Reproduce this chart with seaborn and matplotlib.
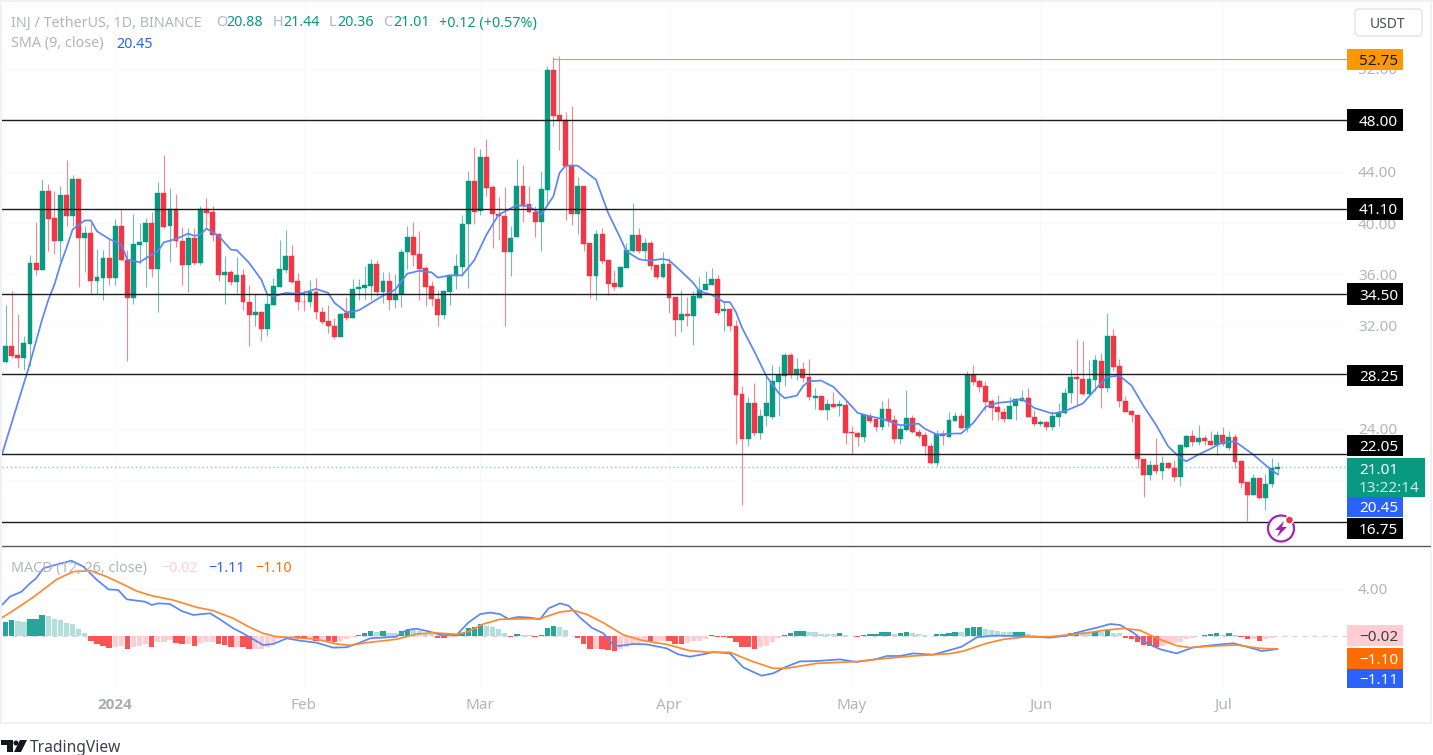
import numpy as np
import pandas as pd
import matplotlib
matplotlib.use('Agg')
import matplotlib.pyplot as plt
import seaborn as sns
from matplotlib.patches import Rectangle, FancyBboxPatch, Circle, Polygon

# INJ / USDT daily candles
opens = [29.19,30.46,29.73,29.53,30.62,36.89,36.37,42.5,40.37,38.58,
         42.19,40.53,43.46,38.81,39.25,35.49,35.73,37.28,35.73,39.8,
         37.1,34.14,38.32,38.5,40.03,36.45,42.34,39.8,41.1,38.63,
         36.77,38.87,36.9,41.1,40.84,39.18,35.96,36.17,35.39,35.96,
         33.88,32.87,33.05,31.78,33.65,35.03,36.32,37.46,35.47,33.88,
         33.83,34.61,33.1,32.38,32.0,31.16,33.0,32.64,34.86,34.97,
         35.12,36.81,34.6,35.46,34.03,34.5,37.77,38.94,37.59,36.47,
         35.07,34.11,32.87,34.63,35.9,36.58,39.9,43.27,40.91,45.14,
         42.78,40.73,40.57,37.72,38.88,42.88,41.45,40.88,40.05,42.6,
         51.93,48.38,48.04,44.51,40.67,42.88,38.47,35.85,39.17,37.12,
         35.3,35.0,36.5,37.85,39.09,37.85,38.47,36.73,35.77,36.81,
         34.22,32.48,32.95,32.74,34.16,34.76,35.18,35.64,33.14,33.27,
         32.02,26.73,23.23,26.0,23.67,24.96,24.91,27.64,28.08,29.76,
         28.16,28.65,28.0,26.42,26.52,25.48,25.95,25.79,25.87,23.77,
         23.67,23.38,25.02,24.73,24.16,25.54,24.7,23.2,23.93,24.83,
         23.75,23.51,22.63,21.33,23.59,23.38,24.63,25.02,24.06,28.2,
         27.69,27.3,26.18,25.69,25.33,24.78,25.74,26.18,26.41,24.91,
         24.39,24.52,24.16,24.91,25.22,26.78,28.02,27.89,26.72,27.81,
         29.29,27.14,31.24,28.88,26.18,25.4,25.09,21.64,20.37,21.2,
         20.68,21.33,20.97,20.24,22.6,23.46,22.96,23.3,23.04,22.7,
         23.51,22.5,23.35,21.46,19.82,18.86,20.14,18.58,19.7,20.88]
highs = [33.65,34.69,32.95,31.2,37.5,40.06,43.43,43.04,42.5,42.91,
         44.93,43.77,43.5,39.8,40.0,38.01,37.93,38.84,40.34,41.12,
         37.9,40.68,40.0,40.4,40.84,43.2,45.3,42.73,42.26,39.7,
         39.62,39.6,41.36,41.95,41.36,39.23,37.46,36.37,37.36,36.43,
         35.18,34.5,33.18,34.5,35.73,38.7,39.49,38.3,36.12,34.77,
         35.6,35.73,33.5,33.6,32.64,33.0,34.25,35.65,35.64,36.63,
         37.2,37.15,36.16,36.16,36.06,38.0,39.74,40.05,39.4,36.63,
         35.46,34.81,34.76,35.98,37.62,40.65,44.07,45.9,45.79,46.56,
         42.98,42.0,42.8,39.74,44.98,44.5,42.9,41.3,44.07,52.24,
         52.92,53.02,48.61,49.08,43.58,42.88,38.47,39.48,39.61,37.15,
         36.37,36.68,38.44,41.53,39.64,38.83,38.63,36.76,37.77,37.28,
         34.22,34.76,34.24,34.68,35.77,36.29,36.5,35.93,33.91,33.4,
         32.49,27.3,26.44,27.56,25.54,28.2,28.96,28.86,29.89,29.89,
         29.5,29.19,29.43,27.14,26.65,26.31,26.83,26.2,26.2,24.24,
         23.72,25.09,25.22,24.76,26.18,26.37,25.09,24.19,27.04,25.09,
         23.98,23.72,22.89,23.93,23.93,25.33,25.33,25.22,28.52,28.96,
         27.87,27.69,26.31,26.65,25.59,26.47,26.39,27.04,27.19,25.48,
         24.65,24.57,25.35,26.0,27.17,28.64,30.98,30.85,29.32,29.76,
         29.89,33.0,31.78,29.42,26.57,25.48,25.09,21.64,21.54,23.25,
         21.85,21.38,21.54,22.81,23.53,23.87,24.31,23.53,23.79,23.85,
         24.13,23.79,23.59,21.59,19.87,20.45,20.19,20.5,21.69,21.44]
lows = [29.1,29.5,28.72,28.6,28.9,35.96,36.37,37.83,37.62,37.08,
        39.75,39.75,35.0,36.17,34.5,34.5,34.04,35.18,35.18,37.02,
        29.29,33.68,36.82,35.0,35.8,33.05,39.6,36.95,38.14,35.18,
        34.6,36.77,36.7,39.6,38.58,35.47,33.68,35.2,34.56,33.26,
        30.41,32.0,30.85,31.2,33.65,35.03,36.1,35.3,33.26,33.13,
        33.5,32.5,32.17,31.45,31.0,31.16,32.48,32.64,33.98,34.03,
        34.03,34.3,33.77,33.2,33.4,33.5,36.42,36.68,33.98,33.57,
        33.57,32.01,32.56,33.65,34.86,35.85,34.92,39.9,40.6,42.08,
        38.08,38.7,32.01,35.85,38.88,40.05,40.78,38.88,37.85,41.35,
        47.58,45.71,40.21,39.87,39.17,37.85,34.14,34.03,36.84,34.42,
        34.81,34.94,36.5,37.77,37.67,37.15,36.37,35.64,35.72,33.0,
        31.23,31.54,31.96,30.53,34.16,34.76,35.18,32.87,31.58,31.58,
        22.84,18.09,22.63,23.41,23.2,24.24,24.76,25.02,27.35,27.95,
        27.82,27.61,26.2,25.54,25.43,24.7,25.61,24.96,22.84,22.0,
        22.68,22.97,24.45,23.8,23.87,24.19,22.89,22.84,23.85,23.62,
        23.28,21.98,21.25,21.07,22.76,23.33,24.58,24.0,23.75,27.43,
        26.83,25.35,24.65,24.65,24.5,24.78,24.7,26.13,24.88,24.23,
        24.18,23.87,23.92,24.18,25.17,26.0,25.79,26.65,26.65,26.91,
        25.6,26.83,28.46,25.69,25.27,24.55,20.94,18.68,20.03,20.5,
        20.11,20.86,19.9,19.51,22.47,22.63,22.7,22.76,22.7,21.98,
        22.63,22.3,20.94,19.38,16.84,18.84,18.55,17.7,19.44,20.36]
closes = [30.46,29.63,29.53,30.67,36.89,36.37,42.5,40.32,38.58,42.19,
          40.53,43.43,38.81,39.25,35.49,35.78,37.28,35.73,39.8,37.1,
          34.14,38.37,38.55,40.03,36.45,42.34,39.72,41.1,38.58,36.77,
          38.87,36.9,41.1,40.79,39.1,35.96,36.17,35.42,35.96,33.83,
          32.87,33.1,31.78,33.73,35.08,36.43,37.46,35.39,33.83,33.83,
          34.61,33.05,32.33,31.97,31.16,32.95,32.64,34.84,35.02,35.15,
          36.81,34.66,35.46,34.03,34.5,37.77,38.94,37.54,36.42,35.02,
          34.11,32.87,34.68,35.98,36.65,39.95,43.27,40.83,45.14,42.73,
          40.67,40.57,37.72,38.83,42.88,41.4,40.86,40.05,42.65,51.93,
          48.3,47.91,44.46,40.67,42.88,38.39,35.85,39.17,37.07,35.25,
          35.0,36.58,37.93,39.09,37.85,38.44,36.68,35.77,36.81,34.16,
          32.48,32.95,32.74,34.29,34.81,35.23,35.64,33.0,33.27,31.97,
          26.65,23.2,26.0,23.67,25.02,26.0,27.69,28.2,29.76,28.2,
          28.65,27.95,26.44,26.52,25.48,25.95,25.69,25.9,23.67,23.62,
          23.38,25.04,24.6,24.16,25.54,24.63,23.2,24.0,24.83,23.72,
          23.46,22.63,21.33,23.59,23.41,24.7,25.02,24.06,28.2,27.61,
          27.25,26.05,25.64,25.28,24.78,25.79,26.31,26.39,24.88,24.39,
          24.52,24.16,25.01,25.22,26.8,28.02,27.87,26.72,27.84,29.34,
          27.14,31.24,28.77,26.13,25.32,25.04,21.64,20.37,21.2,20.68,
          21.33,20.94,20.24,22.73,23.46,22.99,23.3,23.02,22.76,23.51,
          22.83,23.35,21.41,19.77,18.86,20.19,18.58,19.72,20.91,21.01]

# SMA(9) as it reads on the chart, day number / price
sma_days = [0.4,3,4.7,7,8,9,10,11,12,14,15,16,18,20,21,23,25,26,27,29,31,32,33,34,36,38,39,41,43,44,45,47,49,50,52,54,55,57,59,
            61,63,65,67,69,71,72,74,76,78,80,82,85,87,89,91,92,93,95,98,100,102,103,105,106,107,109,110,112,114,115,117,119,
            120,121,122,124,126,128,129,131,132,133,135,137,139,141,143,145,148,151,152,154,157,158,160,162,164,166,168,
            170,173,175,178,180,182,184,186,188,190,192,194,195,197,199,201,203,206,209,210]
sma_vals = [22.0,26.0,28.6,32.5,34.0,35.2,36.76,38.06,39.5,40.2,40.2,39.36,38.76,38.32,37.15,36.95,37.54,37.8,38.5,38.76,39.18,39.0,39.1,39.57,39.0,37.93,37.88,36.9,35.6,34.43,34.3,34.56,34.5,34.56,34.87,34.56,33.8,33.05,33.2,
            33.77,34.35,34.81,36.06,36.29,36.16,35.75,35.93,35.93,37.1,39.09,40.65,41.38,41.3,40.65,42.08,43.89,44.46,44.46,43.37,40.78,38.83,37.8,37.2,37.1,37.1,37.2,37.1,36.24,35.33,34.68,34.42,33.85,
            33.84,33.06,31.84,30.02,28.08,26.78,26.37,26.57,27.3,27.69,27.74,27.25,26.26,25.22,24.96,24.76,24.26,24.39,24.0,23.54,23.62,23.62,24.45,25.69,26.0,26.1,26.31,
            25.61,25.17,25.35,25.95,27.04,28.02,28.13,27.35,25.74,24.31,22.63,21.72,21.46,21.98,22.44,22.96,23.0,21.98,20.76,20.45]

# MACD pane
macd_days = [0.4,1.7,3.6,5,6,7.2,9.1,11.8,13.8,16,17.9,19.5,20.9,23.9,25,26.1,28,29.9,31.8,34.6,36.2,38.4,40,43.3,45,47.2,49.4,52.1,54.8,57,59.2,60.9,65.2,66.9,68.5,70.7,72.4,75.1,77,79,
             80.6,82.2,83.6,85.2,87.2,88.8,90.2,92.1,93.5,95.4,97.3,99.2,100.6,101.7,104.1,106.3,109.6,111.5,113.4,115.6,117.3,120,122.2,125.2,127.1,129.3,131.5,134.3,138.1,140.8,144.1,145.8,148,150.1,153.4,156.2,
             158.1,160.6,163.3,167.2,172.6,175.4,177.6,180.3,182.5,184.1,186.3,188.5,190.7,193.4,196.2,199.5,202.7,204.9,207.4,210]
macd_vals = [2.64,3.35,3.77,4.48,4.91,5.76,6.04,6.41,5.9,4.77,3.97,3.91,3.12,2.92,2.64,2.78,2.72,2.13,1.79,1.93,1.42,0.65,0.23,-0.77,-0.68,-0.2,-0.4,-0.57,-0.99,-0.96,-0.57,-0.2,-0.06,0.51,0.62,0.37,0.09,0.09,1.13,1.87,
             1.99,1.87,1.45,1.62,1.56,1.42,2.35,2.78,2.58,1.56,0.71,0.23,-0.62,-0.85,-0.68,-0.71,-1.05,-1.56,-1.76,-1.56,-1.36,-1.48,-2.67,-3.38,-3.18,-2.61,-2.16,-2.13,-1.99,-2.21,-1.96,-1.7,-1.7,-1.48,-1.59,-1.19,
             -0.91,-0.11,0.03,0.0,-0.14,0.03,0.37,0.71,1.02,0.94,0.28,-0.62,-1.13,-1.48,-0.96,-0.77,-0.62,-0.91,-1.28,-1.11]
signal_days = [0.4,2.8,5.5,9.4,12.1,14.9,17.6,20.3,22.5,25,28.5,32.4,35.1,38.4,41.1,43.3,45.5,48.3,52.1,55.4,57.6,60.3,65.2,68.5,71.3,75.1,77,
               79.5,82.2,88.8,92.1,94.3,96.5,99.2,102.5,105.8,109.6,113.4,116.7,120,123.8,127.1,129.3,134.3,140.8,145.8,150.1,156.2,
               158.4,162.2,165,168.8,172.6,178.1,181.9,184.7,187.4,190.2,193.4,195.6,199.5,203.3,207.1,210]
signal_vals = [1.56,2.35,3.29,4.82,5.48,5.56,5.05,4.4,3.83,3.43,3.06,2.44,2.16,1.5,0.74,0.23,-0.06,-0.14,-0.28,-0.68,-0.79,-0.57,-0.28,0.17,0.28,0.14,0.37,
               1.02,1.42,1.48,2.04,2.18,1.84,1.13,0.09,-0.4,-0.71,-1.25,-1.39,-1.39,-2.18,-2.75,-2.75,-2.33,-2.18,-1.9,-1.7,-1.5,
               -1.28,-0.62,-0.28,-0.06,-0.06,0.23,0.51,0.65,0.48,-0.2,-0.82,-0.99,-0.85,-0.77,-1.05,-1.1]
hist_vals = [1.22,1.33,1.25,1.19,1.42,1.42,1.76,1.7,1.45,1.36,
             1.13,1.02,.57,.23,-.4,-.71,-.82,-.99,-.91,-.85,
             -1.13,-.96,-.82,-.71,-.91,-.48,-.48,-.34,-.57,-.71,
             -.71,-.82,-.57,-.48,-.48,-.71,-.77,-.91,-.91,-.96,
             -1.08,-1.08,-1.08,-.96,-.57,-.25,-.17,-.11,-.2,-.25,
             -.22,-.4,-.4,-.45,-.48,-.4,-.28,-.11,.11,.23,
             .4,.38,.4,.28,.23,.4,.51,.5,.4,.23,
             .17,-.17,-.2,-.06,.06,.23,.68,.74,1.02,.85,
             .74,.57,.23,-.09,.14,.11,.06,-.11,.09,.65,
             .82,.8,.48,.03,-.2,-.65,-1.08,-1.08,-1.13,-1.19,
             -1.3,-1.13,-.96,-.74,-.57,-.4,-.45,-.43,-.4,-.45,
             -.65,-.66,-.62,-.45,-.4,-.28,.06,-.11,-.12,-.17,
             -.54,-.96,-.97,-1.08,-.96,-.82,-.48,-.2,.11,.23,
             .4,.41,.31,.3,.2,.19,.18,.23,.06,.03,
             -.11,.09,.14,.15,.31,.32,.17,.23,.31,.23,
             .17,.09,.03,.14,.17,.23,.37,.36,.68,.74,
             .75,.62,.51,.4,.31,.3,.31,.32,.14,.06,
             -.11,-.14,-.09,.03,.11,.23,.37,.31,.28,.31,
             .3,.51,.28,.23,-.14,-.28,-.54,-.77,-.85,-.91,
             -.85,-.68,-.62,-.51,-.25,-.14,.03,.11,.14,.23,
             .11,.23,.11,-.11,-.28,-.25,-.4,-.28,-.17,-.02]

levels = [48.00, 41.10, 34.50, 28.25, 22.05, 16.75]
peak_level = 52.75
last_close = 21.01
price_ticks = [52, 44, 40, 36, 32, 24]
tick_days = [19, 50, 79, 110, 140, 171, 201]
tick_names = ['2024', 'Feb', 'Mar', 'Apr', 'May', 'Jun', 'Jul']

GREEN = '#089981'
RED = '#f23645'
BLUE = '#5b86f7'
ORANGE = '#fb8a35'
GREY = '#b2b5be'
FRAME = '#eff1f6'
W, H = 1433, 755

sns.set_theme(style='white')
plt.rcParams['font.family'] = ['Noto Sans', 'DejaVu Sans']
plt.rcParams['axes.unicode_minus'] = True

fig = plt.figure(figsize=(W / 100, H / 100), dpi=100, facecolor='white')

def box(left, top, right, bottom):
    return [left / W, 1 - bottom / H, (right - left) / W, (bottom - top) / H]

ax = fig.add_axes(box(2, 2, 1347, 546))
ax2 = fig.add_axes(box(2, 547, 1347, 690))
days = np.arange(1, len(closes) + 1)

# candles
df = pd.DataFrame({'day': days, 'o': opens, 'h': highs, 'l': lows, 'c': closes})
df['col'] = np.where(df['c'] >= df['o'], GREEN, RED)
for grid_y in [52, 48, 44, 40, 36, 32, 28, 24, 20]:
    ax.axhline(grid_y, color='#f9fafb', lw=0.8, zorder=0)
for d in tick_days:
    ax.axvline(d, color='#f9fafb', lw=0.8, zorder=0)
    ax2.axvline(d, color='#f9fafb', lw=0.8, zorder=0)
ax.vlines(df['day'], df['l'], df['h'], colors=df['col'], lw=0.8, alpha=0.6, zorder=2)
ax.bar(df['day'], (df['c'] - df['o']).abs(), bottom=df[['o', 'c']].min(axis=1), width=0.8,
       color=df['col'], edgecolor=df['col'], lw=0.3, zorder=3)
sns.lineplot(x=sma_days, y=sma_vals, color=BLUE, lw=1.25, ax=ax, zorder=4, estimator=None, sort=False)

ax.hlines(levels, 0, 222, color='#1c1c1c', lw=1.0, zorder=5)
ax.hlines(peak_level, 91, 222, color='#f59a23', lw=0.8, zorder=5)
ax.axhline(last_close, color='#7fcfbf', lw=1.0, ls=(0, (1, 2)), zorder=1)

ax.set_xlim(0.4, 221.4)
ax.set_ylim(14.865, 57.20)
ax.set_xticks([])
ax.yaxis.tick_right()
ax.set_yticks(price_ticks, [f'{v:.2f}' for v in price_ticks])
ax.tick_params(axis='y', length=0, pad=8, labelsize=11, labelcolor=GREY)

# MACD histogram, light shade when the bar shrinks
hist_colors = {'up': '#26a69a', 'up_fade': '#b2dfdb', 'down': '#ff5252', 'down_fade': '#ffcdd2'}
hist = pd.DataFrame({'day': days, 'v': hist_vals})
rising = hist['v'].diff().fillna(1) >= 0
hist['kind'] = np.select([(hist['v'] >= 0) & rising, hist['v'] >= 0, rising],
                         ['up', 'up_fade', 'down_fade'], default='down')
ax2.bar(hist['day'], hist['v'], width=0.88, color=hist['kind'].map(hist_colors), lw=0, zorder=2)
ax2.axhline(0, color='#d1d4dc', lw=0.9, ls=(0, (4, 4)), zorder=1)
ax2.axhline(4, color='#f9fafb', lw=0.8, zorder=0)
sns.lineplot(x=macd_days, y=macd_vals, color=BLUE, lw=1.25, ax=ax2, zorder=3, estimator=None, sort=False)
sns.lineplot(x=signal_days, y=signal_vals, color=ORANGE, lw=1.25, ax=ax2, zorder=4, estimator=None, sort=False)
ax2.set_xlim(0.4, 221.4)
ax2.set_ylim(-4.596, 7.574)
ax2.set_xlabel('')
ax2.set_ylabel('')
ax2.yaxis.tick_right()
ax2.set_yticks([4], ['4.00'])
ax2.tick_params(axis='y', length=0, pad=8, labelsize=11, labelcolor=GREY)
ax2.set_xticks(tick_days, tick_names)
ax2.tick_params(axis='x', length=0, pad=6, labelsize=11, labelcolor=GREY)
year_label = ax2.xaxis.get_major_ticks()[0].label1
year_label.set_family(['Open Sans', 'DejaVu Sans'])
year_label.set_fontweight('bold')
year_label.set_color('#a9acb6')
for a in (ax, ax2):
    sns.despine(ax=a, left=True, bottom=True, right=True, top=True)
    a.patch.set_alpha(0)

# overlay in screen pixels for the price tags and the rest of the frame
px = fig.add_axes([0, 0, 1, 1], zorder=10)
px.set_xlim(0, W)
px.set_ylim(H, 0)
px.axis('off')

px.add_patch(Rectangle((0, 0), 2, 724, color=FRAME, lw=0))
px.add_patch(Rectangle((0, 0), W, 2, color=FRAME, lw=0))
px.add_patch(Rectangle((0, 722), 1431, 2, color=FRAME, lw=0))
px.add_patch(Rectangle((1430, 0), 2, 724, color=FRAME, lw=0))
px.plot([2, 1430], [546, 546], color='#5a5a5a', lw=1.0)

tags = [('52.75', 49, 21, '#ff9800', '#131722'),
        ('48.00', 109, 22, 'black', 'white'),
        ('41.10', 198, 22, 'black', 'white'),
        ('34.50', 283, 22, 'black', 'white'),
        ('28.25', 365, 21, 'black', 'white'),
        ('22.05', 435, 21, 'black', 'white'),
        ('20.45', 497, 20, '#2962ff', 'white'),
        ('16.75', 518, 21, 'black', 'white'),
        ('\u22120.02', 625, 21, '#ffcdd2', '#3c3f47'),
        ('\u22121.10', 648, 21, '#ff6d00', 'white'),
        ('\u22121.11', 669, 19, '#2962ff', 'white')]
for label, top, height, fill, ink in tags:
    px.add_patch(Rectangle((1347, top), 56, height, color=fill, lw=0))
    px.text(1359, top + height / 2, label, color=ink, fontsize=11, va='center_baseline', ha='left')
px.add_patch(Rectangle((1347, 458), 78, 39, color=GREEN, lw=0))
px.text(1359, 468, '21.01', color='white', fontsize=11, va='center_baseline')
px.text(1359, 487, '13:22:14', color='#cfeee8', fontsize=11, va='center_baseline')

px.add_patch(FancyBboxPatch((1355, 9), 67, 27, boxstyle='round,pad=0,rounding_size=4',
                            fc='white', ec='#e0e3eb', lw=1.0, mutation_aspect=1))
px.text(1388, 22.5, 'USDT', color='#4a4e59', fontsize=10, ha='center', va='center_baseline')

# legends
top_row = [('INJ / TetherUS, 1D, BINANCE', 11, GREY), ('O', 216, GREY), ('20.88', 226, GREEN),
           ('H', 273, GREY), ('21.44', 283, GREEN), ('L', 329, GREY), ('20.36', 337, GREEN),
           ('C', 383, GREY), ('21.01', 393, GREEN), ('+0.12 (+0.57%)', 439, GREEN)]
for label, x, ink in top_row:
    px.text(x, 21, label, color=ink, fontsize=10.3, va='center_baseline')
px.text(11, 42, 'SMA (9, close)', color=GREY, fontsize=10.3, va='center_baseline')
px.text(116, 42, '20.45', color='#2962ff', fontsize=10.3, va='center_baseline')
macd_row = [('MACD (12, 26, close)', 11, GREY), ('\u22120.02', 161, '#ffcdd2'),
            ('\u22121.11', 208, '#2962ff'), ('\u22121.10', 255, '#ff6d00')]
for label, x, ink in macd_row:
    px.text(x, 566.5, label, color=ink, fontsize=10.3, va='center_baseline')

# lightning badge
px.add_patch(Circle((1281, 528.5), 13, fc='white', ec='#9c27b0', lw=1.6))
px.add_patch(Polygon([(1284, 521), (1275, 530), (1280, 530), (1277, 537), (1287, 527), (1282, 527)],
                     color='#9c27b0', lw=0))
px.add_patch(Circle((1289.5, 520), 4, fc='#f23645', ec='white', lw=1.0))

# TradingView mark
px.add_patch(Polygon([(1, 740), (13, 740), (13, 752), (7, 752), (7, 745), (1, 745)], color='#131722', lw=0))
px.add_patch(Circle((16, 743), 2.5, color='#131722', lw=0))
px.add_patch(Polygon([(20, 740), (27, 740), (21, 752), (14, 752)], color='#131722', lw=0))
px.text(30, 746, 'TradingView', color='#3b3f4a', fontsize=11.2, va='center_baseline')

fig.savefig('out.png', dpi=100)
